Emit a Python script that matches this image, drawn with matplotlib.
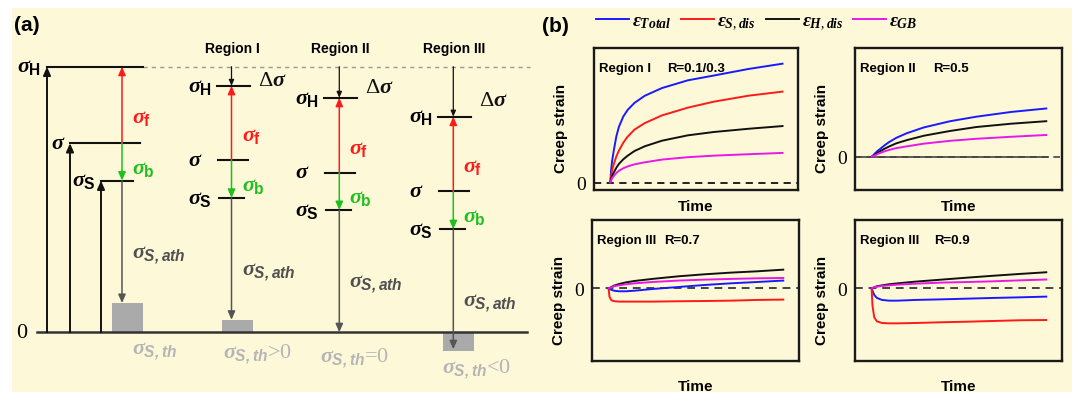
import numpy as np
import matplotlib.pyplot as plt
from matplotlib.patches import Rectangle

plt.rcParams['font.family'] = ['Liberation Sans', 'DejaVu Sans']
plt.rcParams['mathtext.fontset'] = 'custom'
plt.rcParams['mathtext.it'] = 'Liberation Serif:italic:bold'
plt.rcParams['mathtext.rm'] = 'Liberation Serif'
plt.rcParams['mathtext.bf'] = 'Liberation Sans:bold'
plt.rcParams['mathtext.bfit'] = 'Liberation Sans:italic:bold'

# ---- (a) stress levels (top dashed level = 10, baseline = 0)
regions = ['', 'Region I', 'Region II', 'Region III']
sigma_top = 10.0
sigma_H = [10.0, 9.28, 8.83, 8.12]
sigma = [7.12, 6.49, 6.01, 5.31]
sigma_S = [5.71, 5.06, 4.60, 3.88]
sigma_th = [1.10, 0.47, 0.0, -0.69]
th_signs = ['', '>0', '=0', '<0']

# ---- (b) creep strain vs time (arbitrary units)
t_top = [0, 0.004, 0.01, 0.02, 0.035, 0.05, 0.075, 0.1, 0.14, 0.2, 0.3, 0.45, 0.6, 0.8, 1.0]
r1_total = [0, 0.10, 0.18, 0.27, 0.39, 0.47, 0.555, 0.61, 0.67, 0.73, 0.795, 0.86, 0.90, 0.955, 1.00]
r1_sdis = [0, 0.05, 0.10, 0.157, 0.22, 0.27, 0.335, 0.385, 0.445, 0.50, 0.565, 0.63, 0.68, 0.73, 0.765]
r1_hdis = [0, 0.03, 0.055, 0.084, 0.125, 0.157, 0.195, 0.225, 0.265, 0.305, 0.352, 0.397, 0.425, 0.452, 0.475]
r1_gb = [0, 0.018, 0.035, 0.055, 0.08, 0.099, 0.12, 0.135, 0.153, 0.17, 0.193, 0.213, 0.226, 0.238, 0.249]

r2_total = [0, 0.005, 0.013, 0.029, 0.05, 0.067, 0.097, 0.123, 0.158, 0.197, 0.247, 0.299, 0.337, 0.377, 0.406]
r2_hdis = [0, 0.003, 0.008, 0.017, 0.034, 0.047, 0.068, 0.086, 0.112, 0.139, 0.177, 0.217, 0.25, 0.278, 0.299]
r2_gb = [0, 0.002, 0.005, 0.012, 0.023, 0.032, 0.046, 0.057, 0.072, 0.087, 0.11, 0.134, 0.151, 0.168, 0.183]

t_bot = [0, 0.005, 0.015, 0.03, 0.06, 0.1, 0.15, 0.25, 0.4, 0.55, 0.7, 0.85, 1.0]
r7_total = [0, -0.005, -0.012, -0.02, -0.025, -0.025, -0.02, -0.006, 0.011, 0.028, 0.042, 0.053, 0.065]
r7_sdis = [0, -0.07, -0.1, -0.108, -0.112, -0.112, -0.112, -0.112, -0.109, -0.107, -0.104, -0.098, -0.095]
r7_hdis = [0, 0.003, 0.01, 0.022, 0.036, 0.05, 0.062, 0.079, 0.101, 0.118, 0.132, 0.143, 0.157]
r7_gb = [0, 0.002, 0.007, 0.017, 0.025, 0.034, 0.042, 0.053, 0.065, 0.073, 0.079, 0.084, 0.087]

r9_total = [0, -0.02, -0.056, -0.081, -0.098, -0.104, -0.104, -0.098, -0.093, -0.087, -0.081, -0.076, -0.07]
r9_sdis = [0, -0.146, -0.244, -0.278, -0.292, -0.295, -0.295, -0.292, -0.286, -0.281, -0.275, -0.269, -0.267]
r9_hdis = [0, 0.003, 0.008, 0.017, 0.025, 0.034, 0.042, 0.056, 0.073, 0.09, 0.106, 0.121, 0.135]
r9_gb = [0, 0.003, 0.008, 0.014, 0.02, 0.025, 0.031, 0.039, 0.048, 0.053, 0.059, 0.067, 0.074]

series_labels = [r'$\varepsilon_{Total}$', r'$\varepsilon_{S,dis}$', r'$\varepsilon_{H,dis}$', r'$\varepsilon_{GB}$']
series_colors = ['#1a1aff', '#ff1a1a', '#111111', '#e619e6']

bg = '#fdf8d8'
red, green, gray, lightgray = '#ff1a1a', '#1ec01e', '#555555', '#b5b5b5'

W, H = 1080, 406
fig = plt.figure(figsize=(W / 100, H / 100), dpi=100)
fig.add_artist(Rectangle((12 / W, 1 - 393 / H), 1060 / W, 384 / H, transform=fig.transFigure,
                         facecolor=bg, edgecolor='none', zorder=-10))

# ================= (a) schematic =================
axa = fig.add_axes([0, 0, 0.5, 1])
axa.set_xlim(0, 540)
axa.set_ylim(-2.74, 12.55)
axa.axis('off')
axa.patch.set_alpha(0)

col_x = [122, 231.5, 339.3, 453.3]


def arrow(x, y0, y1, color, lw=1.1, ms=10):
    axa.annotate('', xy=(x, y1), xytext=(x, y0),
                 arrowprops=dict(arrowstyle='-|>,head_length=0.5,head_width=0.22', color=color,
                                 lw=lw, shrinkA=0, shrinkB=0, mutation_scale=ms), zorder=4)


sig_fs = 16
axa.text(14, 11.6, '(a)', fontsize=15, fontweight='bold', va='center')
axa.plot([37, 527], [0, 0], color='#333333', lw=1.8, zorder=3)
axa.plot([143, 530], [sigma_top, sigma_top], color='#999999', lw=1, ls=(0, (3, 3)))
axa.text(16, 0, '0', fontsize=16, family='Liberation Serif', va='center')

# left column: absolute levels from 0
left_x = [47, 70, 101]
left_end = [143, 140, 133]
for lx, le, lev in zip(left_x, left_end, [sigma_H[0], sigma[0], sigma_S[0]]):
    axa.plot([lx, le], [lev, lev], color='#111111', lw=1.5)
    arrow(lx, 0, lev, '#111111', lw=1.4)
left_lab_x = [17, 51, 72]
for lx, lev, s in zip(left_lab_x, [sigma_H[0], sigma[0], sigma_S[0]],
                      [r'$\sigma_{\mathbf{H}}$', r'$\sigma$', r'$\sigma_{\mathbf{S}}$']):
    axa.text(lx, lev - 0.18, s, fontsize=sig_fs, va='baseline', ha='left')

for i, x in enumerate(col_x):
    if i > 0:
        axa.text(x + 1, 10.72, regions[i], fontsize=10, fontweight='bold', ha='center', va='center')
        axa.plot([x - 15, x + 18], [sigma_H[i]] * 2, color='#111111', lw=1.5)
        axa.plot([x - 14, x + 16], [sigma[i]] * 2, color='#111111', lw=1.5)
        axa.plot([x - 13, x + 12], [sigma_S[i]] * 2, color='#111111', lw=1.5)
        arrow(x, sigma_top, sigma_H[i], '#111111', lw=0.9, ms=7)
        axa.text(x + 26, sigma_H[i] + 0.35 * (sigma_top - sigma_H[i]), r'$\Delta\sigma$',
                 fontsize=sig_fs, va='center', ha='left', color='#111111')
        for lev, s in zip([sigma_H[i], sigma[i], sigma_S[i]],
                          [r'$\sigma_{\mathbf{H}}$', r'$\sigma$', r'$\sigma_{\mathbf{S}}$']):
            axa.text(x - 44, lev - 0.18, s, fontsize=sig_fs, va='baseline', ha='left')
    arrow(x, sigma[i], sigma_H[i], red)
    arrow(x, sigma[i], sigma_S[i], green)
    th = sigma_th[i]
    end = th if th > 0 else (0 if th == 0 else th + 0.05)
    arrow(x, sigma_S[i], end, gray)
    if th != 0:
        axa.add_patch(Rectangle((x - 10, min(0, th)), 31, abs(th), facecolor='#aaaaaa',
                                edgecolor='none', zorder=2))
    axa.text(x + 10, 0.5 * (sigma[i] + sigma_H[i]) - 0.45, r'$\sigma_{\mathbf{f}}$', color=red,
             fontsize=sig_fs, va='center', ha='left')
    axa.text(x + 10, 0.5 * (sigma[i] + sigma_S[i]) - 0.2, r'$\sigma_{\mathbf{b}}$', color=green,
             fontsize=sig_fs, va='center', ha='left')
    axa.text(x + 10, th + 0.4 * (sigma_S[i] - th), r'$\sigma_{\mathbfit{S,ath}}$', color='#505050',
             fontsize=sig_fs, va='center', ha='left')

th_lab_x = [132, 223, 320, 442]
th_lab_y = [-0.7, -0.8, -0.96, -1.38]
for i in range(4):
    axa.text(th_lab_x[i], th_lab_y[i], r'$\sigma_{\mathbfit{S,th}}$' + th_signs[i], color=lightgray,
             fontsize=sig_fs, family='Liberation Serif', va='center', ha='left')

# ================= (b) creep curves =================
fig.text(542 / W, 1 - 26 / H, '(b)', fontsize=15, fontweight='bold', va='center')


def px_axes(x0, y0, x1, y1):
    return fig.add_axes([x0 / W, 1 - y1 / H, (x1 - x0) / W, (y1 - y0) / H])


panels = [
    dict(box=(594, 49, 798, 191), ylim=(-0.063, 1.132), t=t_top,
         ys=[r1_total, r1_sdis, r1_hdis, r1_gb], reg='Region I', R='R=0.1/0.3', rx=0.358, zero='dash_k', xl=-0.113),
    dict(box=(855, 49, 1062, 191), ylim=(-0.28, 0.915), t=t_top,
         ys=[r2_total, None, r2_hdis, r2_gb], reg='Region II', R='R=0.5', rx=0.375, zero='solid', xl=-0.113),
    dict(box=(592, 221, 799, 362), ylim=(-0.612, 0.575), t=t_bot,
         ys=[r7_total, r7_sdis, r7_hdis, r7_gb], reg='Region III', R='R=0.7', rx=0.348, zero='dash', xl=-0.177),
    dict(box=(855, 221, 1062, 362), ylim=(-0.612, 0.575), t=t_bot,
         ys=[r9_total, r9_sdis, r9_hdis, r9_gb], reg='Region III', R='R=0.9', rx=0.382, zero='dash', xl=-0.177),
]

handles = None
for p in panels:
    ax = px_axes(*p['box'])
    ax.patch.set_alpha(0)
    ax.set_xlim(-0.095, 1.09)
    ax.set_ylim(*p['ylim'])
    for sp in ax.spines.values():
        sp.set_linewidth(1.7)
        sp.set_color('#1a1a1a')
    if p['zero'] == 'dash_k':
        ax.axhline(0, color='#111111', lw=1.3, ls=(0, (4, 3)), zorder=1)
    elif p['zero'] == 'dash':
        ax.axhline(0, color='#444444', lw=1.4, ls=(0, (4, 3)), zorder=1)
    else:
        ax.axhline(0, color='#444444', lw=1.2, ls=(0, (4, 3)), zorder=1)
        ax.axhline(0, xmax=0.93, color='#444444', lw=1.2, zorder=1)
    lines = []
    for y, c, lab in zip(p['ys'], series_colors, series_labels):
        if y is None:
            continue
        ln, = ax.plot(p['t'], y, color=c, lw=1.4, label=lab, zorder=3)
        lines.append(ln)
    if handles is None:
        handles = lines
    ax.set_xticks([])
    ax.set_yticks([0])
    ax.set_yticklabels(['0'], fontsize=14, family='Liberation Serif')
    ax.tick_params(axis='y', length=0, pad=6)
    ax.set_ylabel('Creep strain', fontsize=11, fontweight='bold', va='center')
    ax.yaxis.set_label_coords(-0.16, 0.44)
    ax.set_xlabel('Time', fontsize=11, fontweight='bold', va='center')
    ax.xaxis.set_label_coords(0.5, p['xl'])
    ax.text(0.024, 0.86, p['reg'], transform=ax.transAxes, fontsize=9.5, fontweight='bold', va='center')
    ax.text(p['rx'], 0.86, p['R'], transform=ax.transAxes, fontsize=9.5, fontweight='bold', va='center')

fig.legend(handles=handles, labels=series_labels, ncol=4, loc='upper left',
           bbox_to_anchor=(596 / W, 1 - 13 / H), frameon=False, fontsize=14,
           handlelength=1.7, handletextpad=0.15, columnspacing=0.5, borderpad=0, borderaxespad=0)

fig.savefig('out.png', dpi=100, facecolor='white')
